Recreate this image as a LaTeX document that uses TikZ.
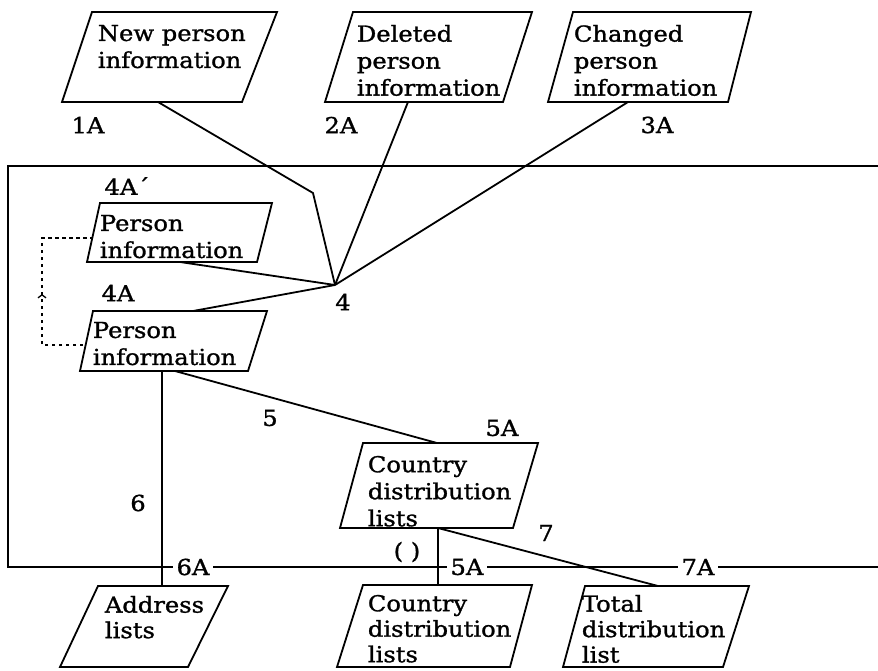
\documentclass[tikz,border=0pt]{standalone}
\usepackage{fontspec}
\setmainfont{DejaVu Serif}[FakeStretch=1.1,FakeBold=1.2]
\usetikzlibrary{decorations.markings,arrows.meta}

\begin{document}
\begin{tikzpicture}[x=1pt,y=-1pt,
  line width=1.8pt,
  boxline/.style={line width=1.8pt,line join=miter},
  boxtext/.style={anchor=north west,inner sep=0pt,align=left,
                  font=\fontsize{22}{27}\selectfont},
  lowtext/.style={boxtext,font=\fontsize{22}{25.5}\selectfont},
  tag/.style={inner sep=0pt,font=\fontsize{22}{24}\selectfont},
  linetag/.style={tag,fill=white,inner xsep=4pt,inner ysep=1pt},
  link/.style={line width=1.8pt},
  feedback/.style={line width=1.5pt,dash pattern=on 3.5pt off 3.5pt,
    postaction={decorate},
    decoration={markings,
      mark=at position 92pt with {\arrow[solid]{Straight Barb[length=3pt,width=8pt,line width=1.3pt]}}}}
]
\useasboundingbox (0,0) rectangle (878,670);

% system boundary (open to the right)
\draw[link] (878,166) -- (8,166) -- (8,567) -- (878,567);

% ---- input files ----
\draw[boxline] (92,12) -- (277,12) -- (242,102) -- (62,102) -- cycle;
\node[boxtext] (b1) at (97,24) {New person\\information};
\coordinate (b1out) at (158,102);

\draw[boxline] (353,12) -- (532,12) -- (503,102) -- (325,102) -- cycle;
\node[boxtext] (b2) at (356,24) {Deleted\\person\\information};
\coordinate (b2out) at (408,102);

\draw[boxline] (573,12) -- (751,12) -- (728,102) -- (548,102) -- cycle;
\node[boxtext] (b3) at (573,24) {Changed\\person\\information};
\coordinate (b3out) at (628,102);

% ---- person information (old / new) ----
\draw[boxline] (100,203) -- (272,203) -- (257,262) -- (87,262) -- cycle;
\node[boxtext] (pold) at (99,214) {Person\\information};
\coordinate (poldout) at (180,262);
\coordinate (poldleft) at (93,238);

\draw[boxline] (93,311) -- (267,311) -- (248,371) -- (80,371) -- cycle;
\node[boxtext] (pnew) at (92,321) {Person\\information};
\coordinate (pnewin) at (193,311);
\coordinate (pnewout) at (175,371);
\coordinate (pnewdown) at (162,371);
\coordinate (pnewleft) at (83,345);

% ---- country distribution lists (inside) ----
\draw[boxline] (363,443) -- (538,443) -- (513,528) -- (340,528) -- cycle;
\node[boxtext] (cdl) at (367,455) {Country\\distribution\\lists};
\coordinate (cdlin) at (437,443);
\coordinate (cdlout) at (438,528);

% ---- output files ----
\draw[boxline] (98,586) -- (228,586) -- (188,667) -- (60,667) -- cycle;
\node[lowtext] (addr) at (104,595) {Address\\lists};
\coordinate (addrin) at (162,586);

\draw[boxline] (363,585) -- (532,585) -- (510,667) -- (337,667) -- cycle;
\node[lowtext] (cdlx) at (367,594) {Country\\distribution\\lists};
\coordinate (cdlxin) at (438,585);

\draw[boxline] (585,586) -- (749,586) -- (723,667) -- (563,667) -- cycle;
\node[lowtext] (tdl) at (581,594) {Total\\distribution\\list};
\coordinate (tdlin) at (658,586);

% ---- process 4 ----
\coordinate (j4) at (335,285);
\coordinate (bend1) at (313,193);
\draw[link] (b1out) -- (bend1) -- (j4);
\draw[link] (b2out) -- (j4);
\draw[link] (b3out) -- (j4);
\draw[link] (poldout) -- (j4);
\draw[link] (pnewin) -- (j4);

% ---- processes 5, 6, 7 ----
\draw[link] (pnewout) -- (cdlin);
\draw[link] (pnewdown) -- (addrin);
\draw[link] (cdlout) -- (cdlxin);
\draw[link] (cdlout) -- (tdlin);

% new person information becomes the old one
\draw[feedback] (pnewleft) -- (42,345) -- (42,238) -- (poldleft);

% ---- labels ----
\node[tag] (l1A) at (88,125) {1A};
\node[tag] (l2A) at (341,125) {2A};
\node[tag] (l3A) at (657,125) {3A};
\node[tag] (l4Ap) at (127,186) {4A´};
\node[tag] (l4A) at (118,293) {4A};
\node[tag] (l4) at (343,302) {4};
\node[tag] (l5) at (270,418) {5};
\node[tag] (l6) at (138,503) {6};
\node[tag] (l5A) at (502,428) {5A};
\node[tag] (l7) at (546,533) {7};
\node[tag] (lpar) at (407,552) {( )};
\node[linetag] (l6A) at (193,567) {6A};
\node[linetag] (l5Ab) at (467,567) {5A};
\node[linetag] (l7A) at (698,567) {7A};
\end{tikzpicture}
\end{document}
